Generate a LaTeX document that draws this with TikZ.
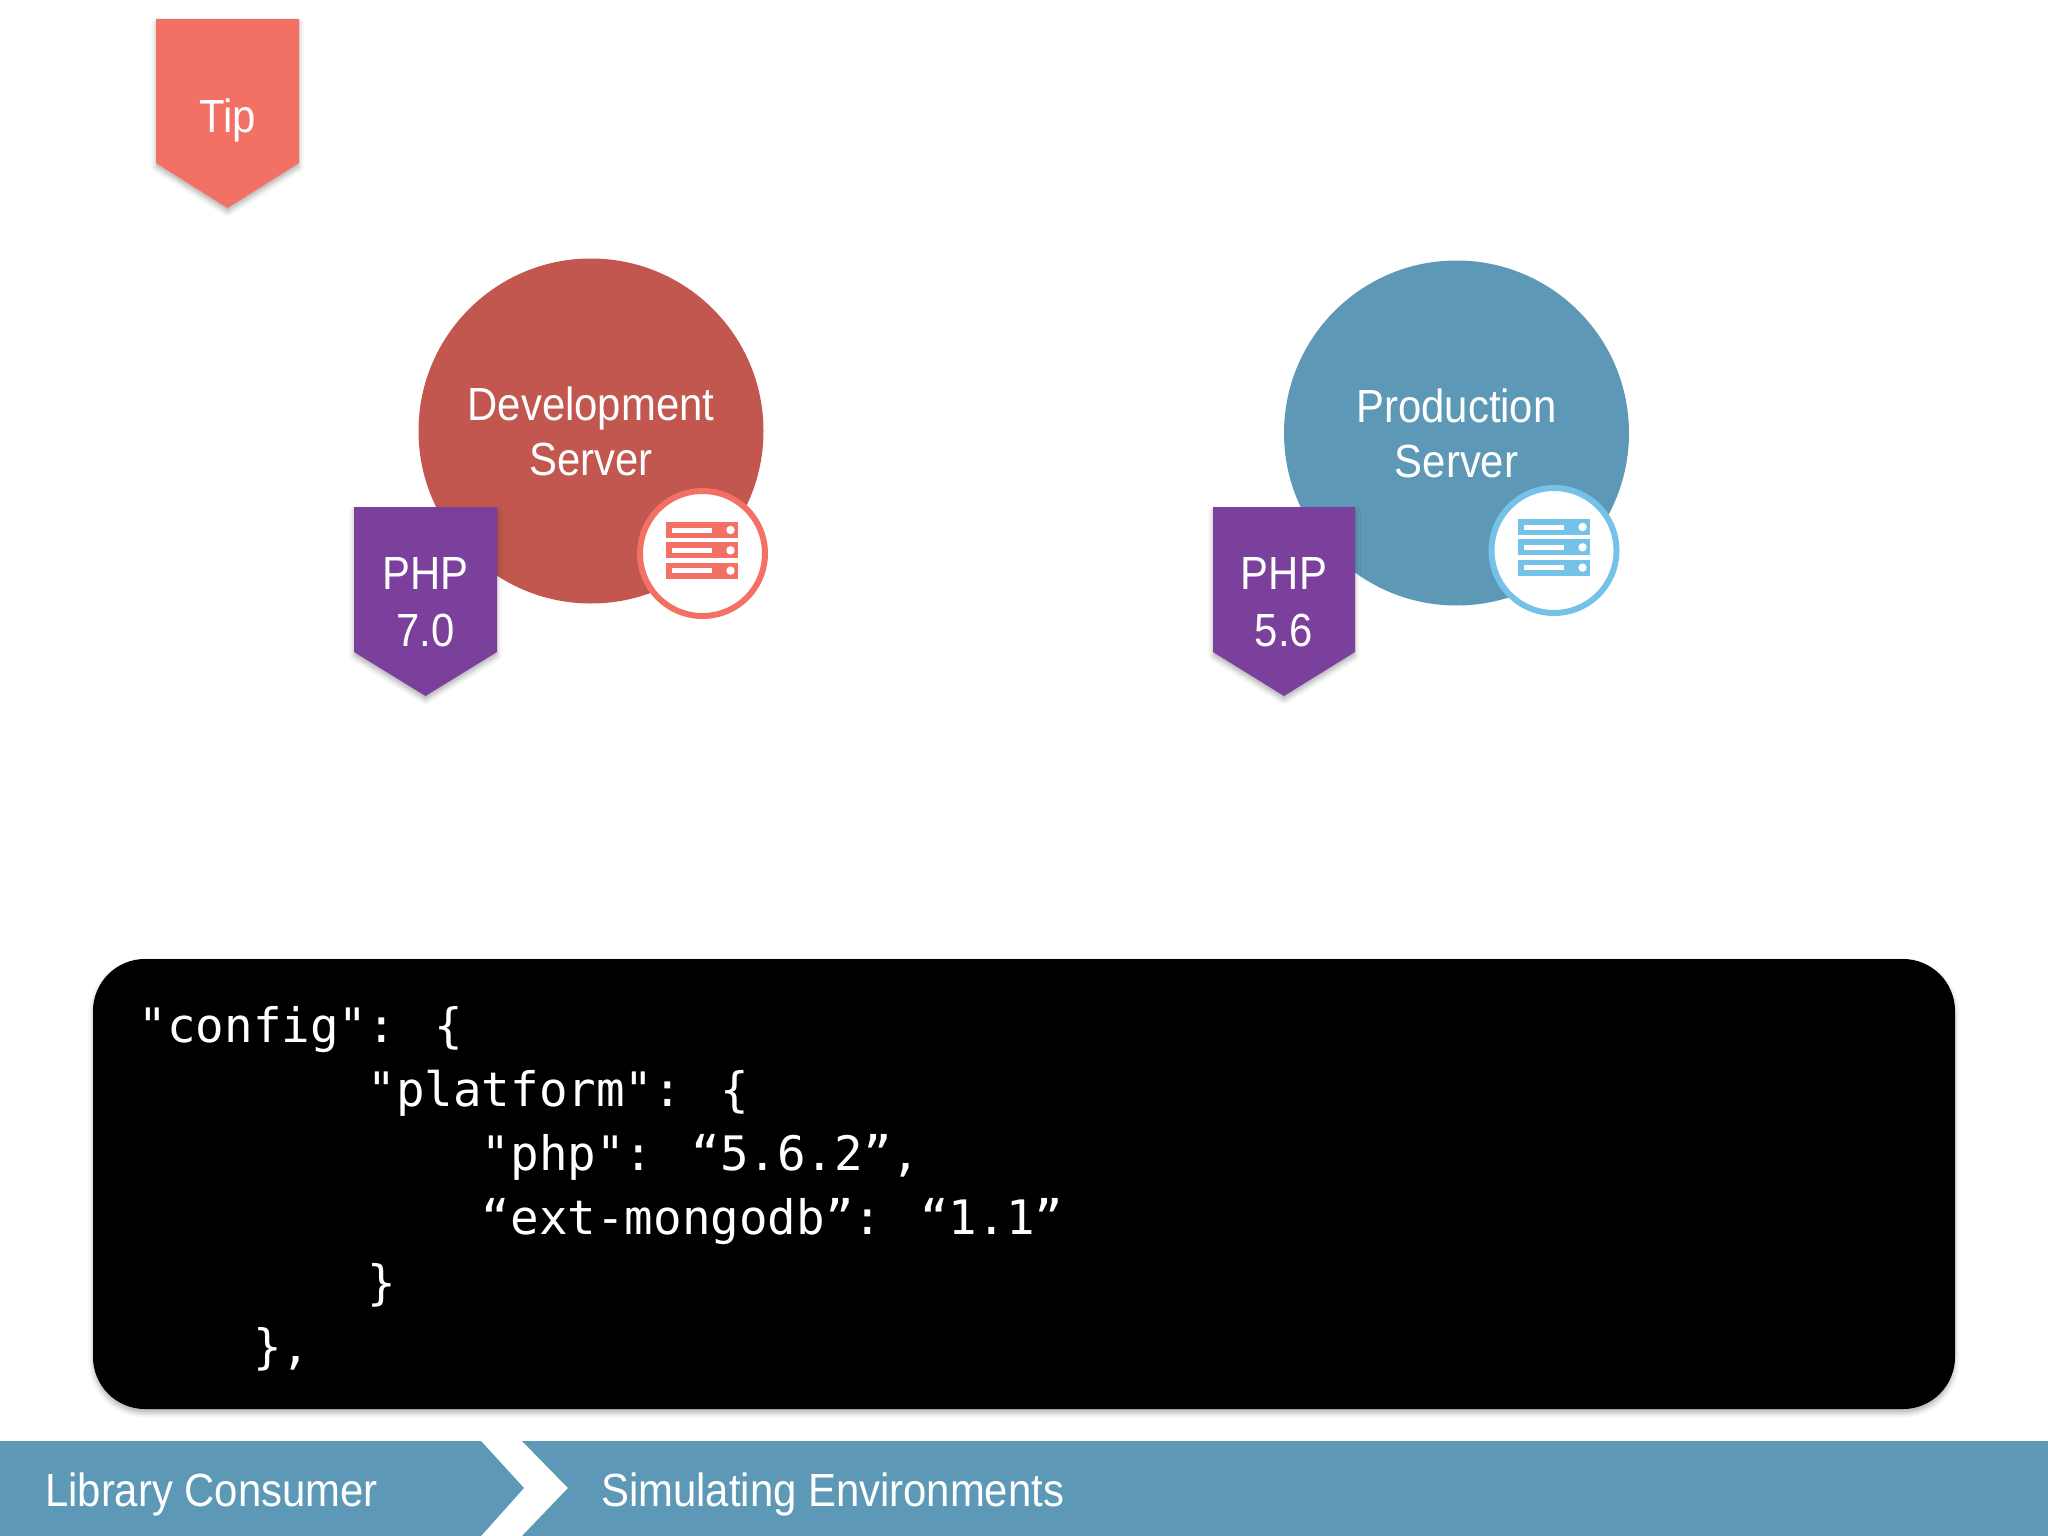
\documentclass[tikz,border=0pt]{standalone}
\usepackage{fontspec}
\setmainfont[FakeStretch=0.9]{Liberation Sans}
\newfontfamily\codefont{DejaVu Sans Mono}
\usetikzlibrary{shadows.blur}
\definecolor{TipClr}{RGB}{243,112,100}
\definecolor{PhpClr}{RGB}{123,63,156}
\definecolor{DevClr}{RGB}{193,87,78}
\definecolor{ProdClr}{RGB}{93,153,183}
\definecolor{SkyClr}{RGB}{116,194,232}
\tikzset{
  softshadow/.style={blur shadow={shadow xshift=0pt,shadow yshift=-4pt,shadow blur radius=5pt,shadow opacity=30}},
  tagshape/.style={fill=#1,softshadow},
  server/.style={circle,fill=#1,minimum size=345pt,inner sep=0pt,text=white,align=center,
    font=\fontsize{46.5}{55}\selectfont},
  badge/.style={circle,fill=white,draw=#1,line width=6pt,minimum size=125pt,inner sep=0pt},
  taglabel/.style={text=white,align=center,inner sep=0pt,font=\fontsize{46.5}{56.5}\selectfont},
  barlabel/.style={text=white,anchor=base west,inner sep=0pt,font=\fontsize{46.5}{55}\selectfont},
}
\newcommand{\codestep}[1]{\hspace*{#1\dimexpr 28.6pt\relax}}

\begin{document}
\begin{tikzpicture}[x=1pt,y=-1pt]
\useasboundingbox (0,0) rectangle (2048,1536);

% tip flag
\fill[tagshape=TipClr] (156,19) -- (299,19) -- (299,163) -- (227.5,208) -- (156,163) -- cycle;
\node[taglabel] (tip) at (227.5,120) {Tip};

% development server
\node[server=DevClr] (dev) at (591,431) {Development\\Server};
\fill[tagshape=PhpClr] (354,507) -- (497,507) -- (497,652) -- (425.5,696) -- (354,652) -- cycle;
\node[taglabel] (devphp) at (425.5,602) {PHP\\7.0};
\node[badge=TipClr] (devbadge) at (702.5,553.5) {};
\begin{scope}[shift={(666,522)}]
  \foreach \r in {0,20.3,40.6} {
    \fill[TipClr] (0,\r) rectangle (72,\r+16);
    \fill[white] (5.5,\r+5.5) rectangle (46,\r+10.5);
    \fill[white] (64.5,\r+8) circle (4.2);
  }
\end{scope}

% production server
\node[server=ProdClr] (prod) at (1456.5,433) {Production\\Server};
\fill[tagshape=PhpClr] (1213,507) -- (1355,507) -- (1355,652) -- (1284,696) -- (1213,652) -- cycle;
\node[taglabel] (prodphp) at (1284,602) {PHP\\5.6};
\node[badge=SkyClr] (prodbadge) at (1554,550.5) {};
\begin{scope}[shift={(1518,519)}]
  \foreach \r in {0,20.3,40.6} {
    \fill[SkyClr] (0,\r) rectangle (72,\r+16);
    \fill[white] (5.5,\r+5.5) rectangle (46,\r+10.5);
    \fill[white] (64.5,\r+8) circle (4.2);
  }
\end{scope}

% code box
\node[fill=black,rounded corners=52pt,minimum width=1862pt,minimum height=450pt,softshadow] (codebox) at (1024,1184) {};
\node[text=white,anchor=north west,inner sep=0pt,align=left,
  font=\codefont\fontsize{47.5}{64.2}\selectfont] (code) at (138.5,1006) {%
"config": \{\\
\codestep{8}"platform": \{\\
\codestep{12}"php": “5.6.2”,\\
\codestep{12}“ext-mongodb”: “1.1”\\
\codestep{8}\}\\
\codestep{4}\},};

% breadcrumb bar
\fill[ProdClr] (0,1441) -- (481,1441) -- (524,1488) -- (481,1536) -- (0,1536) -- cycle;
\fill[ProdClr] (522,1441) -- (2048,1441) -- (2048,1536) -- (522,1536) -- (568,1488) -- cycle;
\node[barlabel] (consumer) at (45,1506) {Library Consumer};
\node[barlabel] (simulating) at (601,1506) {Simulating Environments};
\end{tikzpicture}
\end{document}
